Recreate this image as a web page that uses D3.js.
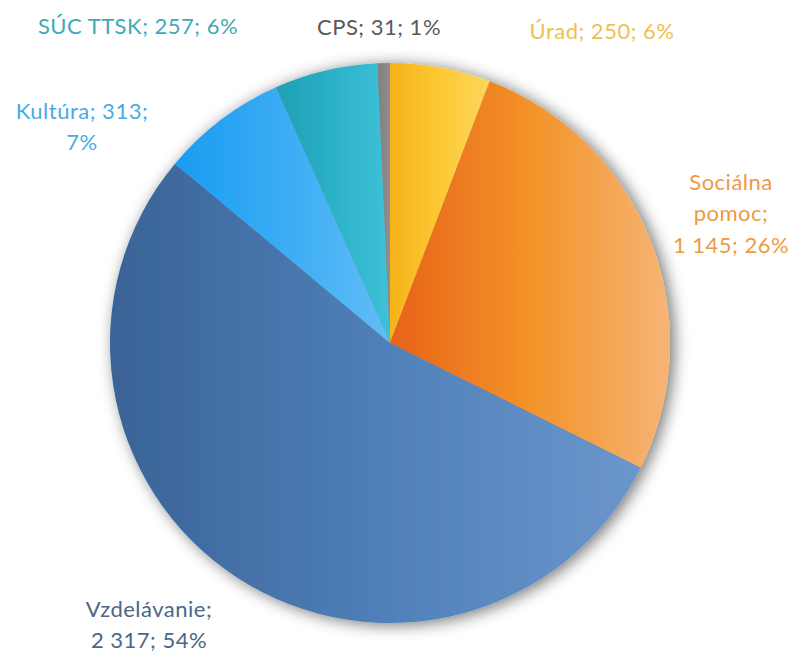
<!DOCTYPE html>
<html>
<head>
<meta charset="utf-8">
<title>Pie using d3.js</title>
<script src="https://d3js.org/d3.v7.min.js"></script>
<style>
  body { margin: 0; background: #fff; }
  svg text { font-family: Lato, "Open Sans", sans-serif; }
</style>
</head>
<body>
<div id="chart"></div>
<script type="text/javascript">

  // data
  const names = ["Úrad", "Sociálna pomoc", "Vzdelávanie", "Kultúra", "SÚC TTSK", "CPS"];
  const values = [250, 1145, 2317, 313, 257, 31];
  const percents = ["6%", "26%", "54%", "7%", "6%", "1%"];

  // gradient stops per slice (left -> right), label colors
  const fillsLeft  = ["#f6b21a", "#e8621a", "#3a6396", "#1a9cf0", "#1f9fb2", "#7f7f7f"];
  const fillsMid   = ["#fcc934", "#f39328", "#4f7fb8", "#3aacf4", "#2bb1c8", "#878787"];
  const fillsRight = ["#fdd65c", "#f6b476", "#6b96cc", "#62bdf6", "#3ec2d8", "#8f8f8f"];
  const labelColors = ["#efc04e", "#ee9a45", "#4d6587", "#4aaae6", "#3eaab8", "#595959"];

  // label layout: center x, first line middle y, line grouping of tokens
  const labelLayout = [
    { x: 602, y: 31,  groups: [3] },
    { x: 731, y: 182, groups: [1, 1, 2] },
    { x: 149, y: 609, groups: [1, 2] },
    { x: 82,  y: 111, groups: [2, 1] },
    { x: 138, y: 26,  groups: [4] },
    { x: 379, y: 27,  groups: [3] }
  ];

  const width = 797, height = 657;
  const cx = 390, cy = 343, radius = 280;
  const lineH = 31.5;

  const svg = d3.select("#chart")
    .append("svg")
    .attr("width", width)
    .attr("height", height);

  const defs = svg.append("defs");

  const shadow = defs.append("filter")
    .attr("id", "shadow")
    .attr("x", "-20%").attr("y", "-20%")
    .attr("width", "140%").attr("height", "140%");
  shadow.append("feGaussianBlur").attr("in", "SourceAlpha").attr("stdDeviation", 8).attr("result", "blur");
  shadow.append("feOffset").attr("in", "blur").attr("dx", 4).attr("dy", 2).attr("result", "off");
  shadow.append("feComponentTransfer").attr("in", "off").attr("result", "soft")
    .append("feFuncA").attr("type", "linear").attr("slope", 0.55);
  const merge = shadow.append("feMerge");
  merge.append("feMergeNode").attr("in", "soft");
  merge.append("feMergeNode").attr("in", "SourceGraphic");

  names.forEach((n, i) => {
    const g = defs.append("linearGradient")
      .attr("id", "grad" + i)
      .attr("x1", "0%").attr("y1", "0%")
      .attr("x2", "100%").attr("y2", "0%");
    g.append("stop").attr("offset", "0%").attr("stop-color", fillsLeft[i]);
    g.append("stop").attr("offset", "50%").attr("stop-color", fillsMid[i]);
    g.append("stop").attr("offset", "100%").attr("stop-color", fillsRight[i]);
  });

  const pie = d3.pie().sort(null).value(d => d);
  const arc = d3.arc().innerRadius(0).outerRadius(radius);
  const arcs = pie(values);

  const chart = svg.append("g")
    .attr("transform", `translate(${cx},${cy})`)
    .attr("filter", "url(#shadow)");

  chart.selectAll("path")
    .data(arcs)
    .enter()
    .append("path")
    .attr("d", arc)
    .attr("fill", (d, i) => `url(#grad${i})`);

  const fmt = v => d3.format(",")(v).replace(/,/g, " ");

  const tokensFor = i => {
    const words = names[i].split(" ");
    words[words.length - 1] += ";";
    return words.concat([fmt(values[i]) + ";", percents[i]]);
  };

  names.forEach((n, i) => {
    const tokens = tokensFor(i);
    const lay = labelLayout[i];
    let k = 0;
    const lines = lay.groups.map(c => {
      const line = tokens.slice(k, k + c).join(" ");
      k += c;
      return line;
    });
    const t = svg.append("text")
      .attr("text-anchor", "middle")
      .attr("font-size", 22)
      .attr("letter-spacing", "0.5px")
      .attr("fill", labelColors[i]);
    lines.forEach((l, j) => {
      t.append("tspan")
        .attr("x", lay.x)
        .attr("y", lay.y + j * lineH)
        .attr("dy", "0.35em")
        .text(l);
    });
  });

</script>
</body>
</html>
